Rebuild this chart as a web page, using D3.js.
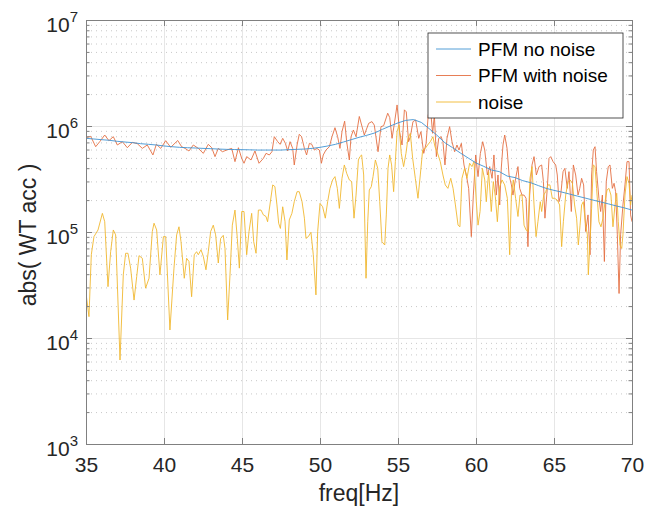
<!DOCTYPE html>
<html>
<head>
<meta charset="utf-8">
<script src="https://cdn.jsdelivr.net/npm/d3@7"></script>
<style>
  body { margin: 0; background: #fff; }
  svg { font-family: "Liberation Sans", Arial, Helvetica, sans-serif; }
  .axis path, .axis line { stroke: #808080; }
  .axis text { fill: #262626; font-size: 21px; }
  .grid line { stroke: #e6e6e6; }
  .grid path { display: none; }
  .minor-grid line { stroke: #c8c8c8; stroke-dasharray: 1,4; }
  .minor-grid path { display: none; }
</style>
</head>
<body>
<div id="chart"></div>
<script>
// amplitudes are stored in units of 1e5
var AMP_UNIT = 1e5;

var seriesNames = ["PFM no noise", "PFM with noise", "noise"];
var seriesColors = ["#3f93d2", "#e46f43", "#f0b830"];

var xTicks = [35, 40, 45, 50, 55, 60, 65, 70];
var yTicks = [1e3, 1e4, 1e5, 1e6, 1e7];

// PFM no noise (smooth response)
var freqClean = [35, 35.5, 36, 36.5, 37, 37.5, 38, 38.5, 39, 39.5, 40, 40.5, 41, 41.5, 42, 42.5,
  43, 43.5, 44, 44.5, 45, 45.5, 46, 46.5, 47, 47.5, 48, 48.5, 49, 49.5, 50, 50.5, 51, 51.5, 52, 52.5,
  53, 53.5, 54, 54.5, 55, 55.5, 56, 56.5, 57, 57.5, 58, 58.5, 59, 59.5, 60, 60.5, 61, 61.5, 62, 62.5,
  63, 63.5, 64, 64.5, 65, 65.5, 66, 66.5, 67, 67.5, 68, 68.5, 69, 69.5, 70];
var ampClean = [7.65, 7.54, 7.43, 7.33, 7.17, 7.06, 6.96, 6.81, 6.72, 6.62, 6.48, 6.38, 6.29, 6.24, 6.20, 6.15,
  6.11, 6.06, 6.02, 6.00, 5.98, 5.96, 5.93, 5.93, 5.93, 5.93, 5.98, 6.02, 6.06, 6.15, 6.29, 6.48, 6.72, 7.06, 7.43, 7.82,
  8.17, 8.59, 9.30, 10.0, 10.7, 11.3, 11.5, 10.8, 9.44, 8.17, 6.96, 6.24, 5.56, 4.99, 4.48, 4.16, 3.84, 3.71, 3.37, 3.26,
  3.05, 2.92, 2.74, 2.58, 2.47, 2.38, 2.28, 2.18, 2.09, 2.00, 1.92, 1.84, 1.76, 1.69, 1.61];

// PFM with noise
var freqNoisy = [35.00, 35.30, 35.62, 35.88, 36.20, 36.47, 36.75, 37.01, 37.33, 37.65, 37.97, 38.29, 38.61, 38.93,
  39.29, 39.51, 39.79, 40.11, 40.43, 40.88, 41.13, 41.35, 41.60, 41.88, 42.20, 42.52, 42.84, 43.06, 43.27, 43.48,
  43.74, 44.02, 44.34, 44.55, 44.77, 44.98, 45.13, 45.30, 45.58, 45.83, 46.09, 46.37, 46.54, 46.75, 46.92, 47.07,
  47.29, 47.44, 47.61, 47.78, 47.93, 48.08, 48.25, 48.35, 48.53, 48.67, 48.82, 49.00, 49.14, 49.32, 49.47, 49.64,
  49.79, 49.96, 50.09, 50.21, 50.38, 50.60, 50.77, 50.96, 51.13, 51.28, 51.41, 51.58, 51.71, 51.88, 51.99, 52.14,
  52.31, 52.52, 52.84, 53.12, 53.33, 53.48, 53.72, 53.91, 54.08, 54.34, 54.47, 54.62, 54.77, 54.94, 55.11, 55.26,
  55.41, 55.53, 55.68, 55.79, 55.96, 56.13, 56.33, 56.47, 56.65, 56.80, 56.94, 57.07, 57.22, 57.33, 57.46, 57.61,
  57.76, 57.88, 58.01, 58.14, 58.31, 58.46, 58.63, 58.78, 58.91, 59.06, 59.23, 59.38, 59.53, 59.70, 59.83, 59.98,
  60.13, 60.28, 60.43, 60.56, 60.73, 60.88, 61.03, 61.15, 61.30, 61.41, 61.52, 61.62, 61.73, 61.84, 61.99, 62.12,
  62.27, 62.37, 62.54, 62.69, 62.80, 62.95, 63.08, 63.21, 63.33, 63.44, 63.59, 63.72, 63.87, 64.04, 64.21, 64.32,
  64.42, 64.57, 64.68, 64.79, 64.94, 65.11, 65.21, 65.32, 65.43, 65.58, 65.70, 65.85, 65.96, 66.11, 66.24, 66.39,
  66.54, 66.65, 66.77, 66.90, 67.03, 67.18, 67.31, 67.41, 67.52, 67.63, 67.73, 67.88, 67.99, 68.10, 68.23, 68.35,
  68.48, 68.59, 68.74, 68.85, 68.95, 69.06, 69.17, 69.27, 69.42, 69.55, 69.68, 69.81, 69.91, 70.00];
var ampNoisy = [7.76, 7.99, 6.38, 7.11, 8.22, 7.27, 7.93, 6.62, 7.11, 6.24, 7.01, 6.81, 6.15, 6.62,
  5.33, 6.72, 6.15, 7.27, 6.29, 7.30, 6.38, 6.15, 5.81, 6.62, 6.15, 5.52, 6.72, 6.24, 5.14, 6.15,
  5.72, 5.93, 6.15, 4.61, 6.24, 4.95, 4.45, 5.14, 4.78, 5.81, 4.45, 4.95, 5.52, 5.33, 5.72, 7.93,
  7.11, 6.72, 7.65, 6.86, 5.81, 7.11, 6.15, 4.29, 6.62, 8.35, 7.93, 6.15, 5.33, 6.86, 6.72, 5.93,
  6.15, 5.93, 4.45, 5.33, 5.93, 6.38, 7.93, 9.64, 7.93, 6.15, 8.84, 11.1, 7.11, 4.78, 7.93, 9.17,
  7.93, 12.3, 8.22, 10.6, 11.0, 10.2, 5.72, 9.86, 10.07, 13.2, 12.0, 7.65, 10.6, 15.8, 8.72, 6.62,
  14.2, 13.6, 7.11, 7.93, 11.0, 11.4, 7.65, 8.84, 5.52, 6.86, 12.7, 15.2, 8.53, 12.7, 5.14, 7.65,
  7.93, 7.11, 4.29, 7.65, 9.86, 7.11, 5.72, 6.62, 5.93, 6.86, 4.29, 3.45, 2.58, 0.904, 2.23, 5.33,
  3.33, 5.52, 7.11, 5.93, 3.45, 4.14, 3.21, 5.33, 2.23, 3.45, 1.80, 3.99, 6.62, 8.22, 6.15, 3.45,
  2.78, 2.23, 3.21, 4.14, 2.58, 2.23, 2.23, 2.08, 0.727, 2.23, 4.29, 5.14, 3.45, 4.14, 4.29, 2.99,
  1.35, 2.58, 4.95, 5.14, 4.61, 4.29, 3.45, 1.93, 2.23, 3.71, 3.99, 2.58, 3.71, 1.56, 4.29, 3.45,
  2.23, 2.58, 3.21, 2.78, 1.01, 1.45, 0.61, 3.45, 5.93, 6.38, 3.71, 2.08, 1.56, 2.23, 0.527, 2.99,
  4.14, 4.29, 2.58, 2.88, 2.40, 0.94, 0.263, 0.94, 1.80, 2.78, 4.61, 4.61, 1.45, 1.25];

// noise
var freqNoise = [35.00, 35.19, 35.34, 35.51, 35.77, 36.05, 36.20, 36.41, 36.58, 36.75, 36.90, 37.18, 37.39, 37.54,
  37.69, 37.86, 38.08, 38.25, 38.40, 38.61, 38.82, 39.04, 39.25, 39.36, 39.53, 39.74, 39.96, 40.11, 40.38, 40.64,
  40.81, 40.96, 41.09, 41.30, 41.45, 41.60, 41.77, 41.94, 42.09, 42.20, 42.37, 42.52, 42.69, 42.84, 42.99, 43.16,
  43.31, 43.48, 43.63, 43.80, 43.91, 44.08, 44.23, 44.38, 44.55, 44.70, 44.83, 44.98, 45.13, 45.30, 45.45, 45.62,
  45.75, 45.90, 46.05, 46.22, 46.37, 46.54, 46.64, 46.79, 46.97, 47.11, 47.24, 47.35, 47.46, 47.61, 47.76, 47.88,
  48.03, 48.20, 48.35, 48.53, 48.67, 48.85, 49.00, 49.10, 49.25, 49.42, 49.57, 49.74, 49.85, 50.00, 50.17, 50.34,
  50.49, 50.64, 50.81, 50.96, 51.11, 51.24, 51.41, 51.56, 51.71, 51.88, 52.03, 52.18, 52.31, 52.46, 52.56, 52.67,
  52.80, 52.95, 53.06, 53.16, 53.29, 53.40, 53.55, 53.70, 53.83, 53.97, 54.15, 54.25, 54.36, 54.47, 54.59, 54.72,
  54.83, 54.94, 55.06, 55.21, 55.36, 55.51, 55.64, 55.79, 55.94, 56.11, 56.28, 56.43, 56.58, 56.75, 56.90, 57.07,
  57.24, 57.37, 57.54, 57.71, 57.88, 58.03, 58.20, 58.38, 58.53, 58.68, 58.85, 58.97, 59.10, 59.27, 59.42, 59.59,
  59.74, 59.87, 60.02, 60.13, 60.26, 60.41, 60.56, 60.66, 60.81, 60.98, 61.11, 61.24, 61.37, 61.52, 61.67, 61.84,
  62.01, 62.16, 62.27, 62.39, 62.54, 62.69, 62.82, 62.95, 63.08, 63.21, 63.33, 63.46, 63.59, 63.72, 63.85, 63.97,
  64.12, 64.21, 64.34, 64.47, 64.61, 64.74, 64.89, 65.04, 65.21, 65.36, 65.49, 65.60, 65.75, 65.90, 66.03, 66.18,
  66.32, 66.45, 66.56, 66.67, 66.77, 66.88, 67.03, 67.14, 67.20, 67.31, 67.41, 67.52, 67.63, 67.73, 67.88, 68.01,
  68.14, 68.27, 68.40, 68.52, 68.65, 68.78, 68.91, 69.02, 69.12, 69.23, 69.34, 69.42, 69.55, 69.68, 69.81, 69.91, 70.00];
var ampNoise = [0.264, 0.159, 0.61, 0.904, 1.045, 1.50, 1.25, 0.305, 0.652, 1.045, 0.94, 0.062, 0.394, 0.63,
  0.63, 0.456, 0.228, 0.379, 0.598, 0.565, 0.295, 0.366, 1.01, 1.21, 1.045, 0.394, 0.904, 0.904, 0.119, 0.456,
  0.94, 1.12, 0.81, 0.366, 0.565, 0.527, 0.245, 0.61, 0.652, 0.61, 0.68, 0.59, 0.44, 0.652, 1.01, 1.16,
  0.94, 0.51, 0.87, 0.93, 0.70, 0.148, 0.394, 1.16, 1.61, 0.87, 0.456, 1.56, 1.56, 0.61, 1.01, 1.50,
  0.81, 0.63, 1.61, 1.61, 1.45, 1.40, 1.25, 1.80, 2.78, 2.68, 1.80, 1.21, 1.08, 1.73, 1.25, 0.545,
  1.30, 1.50, 1.93, 2.40, 2.40, 1.93, 1.35, 0.87, 0.904, 0.993, 0.61, 0.255, 1.01, 1.86, 1.73, 1.35,
  1.93, 2.58, 3.10, 3.33, 2.58, 1.67, 3.21, 4.29, 3.58, 3.10, 2.99, 1.35, 2.23, 4.78, 5.14, 5.33,
  3.45, 0.366, 1.25, 2.49, 2.68, 3.33, 4.78, 3.99, 1.93, 0.81, 0.754, 1.45, 3.99, 5.33, 4.29, 2.40,
  4.61, 8.84, 10.2, 5.52, 4.14, 5.52, 7.65, 8.53, 4.95, 3.21, 2.08, 3.45, 5.93, 6.15, 6.62, 7.11,
  7.93, 6.38, 5.52, 4.61, 3.45, 2.78, 2.58, 3.21, 2.58, 1.80, 1.16, 1.12, 3.21, 3.99, 3.21, 4.45,
  4.14, 4.61, 1.93, 1.16, 1.56, 3.99, 3.10, 1.93, 3.71, 1.56, 2.99, 2.15, 1.25, 2.68, 3.10, 2.78,
  2.08, 0.61, 2.23, 3.10, 2.08, 1.40, 2.23, 2.23, 1.16, 1.045, 1.01, 3.21, 4.14, 1.80, 0.904, 1.25,
  1.93, 1.56, 2.23, 2.40, 2.78, 2.78, 2.08, 2.08, 2.00, 1.80, 0.727, 1.25, 2.23, 2.99, 3.10, 2.88,
  1.80, 1.35, 0.754, 1.16, 1.80, 1.93, 1.16, 0.94, 0.394, 0.81, 1.67, 4.29, 4.14, 2.58, 1.25, 1.12,
  1.35, 1.93, 2.49, 2.58, 2.23, 1.12, 1.80, 2.32, 1.25, 0.754, 0.70, 0.94, 2.23, 3.33, 2.88, 1.80, 2.23];

var width = 646;
var height = 511;
var margin = {top: 20, right: 14, bottom: 67, left: 86};
var plotW = width - margin.left - margin.right;
var plotH = height - margin.top - margin.bottom;

var svg = d3.select("#chart")
  .append("svg")
  .attr("width", width)
  .attr("height", height);

var g = svg.append("g")
  .attr("transform", "translate(" + margin.left + "," + margin.top + ")");

var x = d3.scaleLinear().domain([35, 70]).range([0, plotW]);
var y = d3.scaleLog().domain([1e3, 1e7]).range([plotH, 0]);

var minorY = y.ticks().filter(function (v) { return yTicks.indexOf(v) < 0; });

//grid lines
g.append("g")
  .attr("class", "minor-grid")
  .call(d3.axisLeft(y).tickValues(minorY).tickSize(-plotW).tickFormat(""));
g.append("g")
  .attr("class", "grid")
  .call(d3.axisLeft(y).tickValues(yTicks).tickSize(-plotW).tickFormat(""));
g.append("g")
  .attr("class", "grid")
  .attr("transform", "translate(0," + plotH + ")")
  .call(d3.axisBottom(x).tickValues(xTicks).tickSize(-plotH).tickFormat(""));

//lines
g.append("clipPath")
  .attr("id", "clip")
  .append("rect")
  .attr("width", plotW)
  .attr("height", plotH);

var line = d3.line()
  .x(function (d) { return x(d[0]); })
  .y(function (d) { return y(d[1] * AMP_UNIT); });

var series = [
  d3.zip(freqClean, ampClean),
  d3.zip(freqNoisy, ampNoisy),
  d3.zip(freqNoise, ampNoise)
];
// draw order: noisy, noise, then the clean curve on top
var drawOrder = [1, 2, 0];

g.append("g")
  .attr("clip-path", "url(#clip)")
  .selectAll("path")
  .data(drawOrder)
  .enter().append("path")
  .attr("d", function (i) { return line(series[i]); })
  .attr("fill", "none")
  .attr("stroke", function (i) { return seriesColors[i]; })
  .attr("stroke-width", 0.9)
  .attr("stroke-linejoin", "round");

//axes, ticks pointing inward
var xAxis = g.append("g")
  .attr("class", "axis")
  .attr("transform", "translate(0," + plotH + ")")
  .call(d3.axisBottom(x).tickValues(xTicks).tickSize(-6).tickPadding(13));
xAxis.selectAll(".tick text").attr("dy", "0.71em");

g.append("g")
  .attr("class", "axis")
  .call(d3.axisTop(x).tickValues(xTicks).tickSize(-6).tickFormat(""));

g.append("g")
  .attr("class", "axis")
  .call(d3.axisLeft(y).tickValues(minorY).tickSize(-3.5).tickSizeOuter(0).tickFormat(""));
g.append("g")
  .attr("class", "axis")
  .attr("transform", "translate(" + plotW + ",0)")
  .call(d3.axisRight(y).tickValues(minorY).tickSize(-3.5).tickSizeOuter(0).tickFormat(""));
g.append("g")
  .attr("class", "axis")
  .attr("transform", "translate(" + plotW + ",0)")
  .call(d3.axisRight(y).tickValues(yTicks).tickSize(-6).tickFormat(""));

var yAxis = g.append("g")
  .attr("class", "axis")
  .call(d3.axisLeft(y).tickValues(yTicks).tickSize(-6).tickPadding(8).tickFormat(""));

yAxis.selectAll(".tick text")
  .attr("dy", "0.55em")
  .each(function (d) {
    var t = d3.select(this);
    t.append("tspan").text("10");
    t.append("tspan")
      .attr("dy", "-0.66em")
      .attr("font-size", "15px")
      .text(Math.round(Math.log10(d)));
  });

//axis labels
svg.append("text")
  .attr("x", margin.left + plotW / 2)
  .attr("y", 501)
  .attr("text-anchor", "middle")
  .attr("font-size", "23px")
  .attr("fill", "#262626")
  .text("freq[Hz]");

svg.append("text")
  .attr("transform", "translate(28," + (margin.top + plotH / 2 + 3) + ") rotate(-90)")
  .attr("dy", "0.35em")
  .attr("text-anchor", "middle")
  .attr("font-size", "23px")
  .attr("fill", "#262626")
  .text("abs( WT acc )");

//legend
var legend = svg.append("g")
  .attr("transform", "translate(428,33)");

legend.append("rect")
  .attr("width", 195)
  .attr("height", 85)
  .attr("fill", "#fff")
  .attr("stroke", "#262626")
  .attr("stroke-width", 0.8);

var items = legend.selectAll(".item")
  .data(seriesNames)
  .enter().append("g")
  .attr("class", "item")
  .attr("transform", function (d, i) { return "translate(0," + (16 + i * 26.5) + ")"; });

items.append("line")
  .attr("x1", 8)
  .attr("x2", 43)
  .attr("stroke", function (d, i) { return seriesColors[i]; })
  .attr("stroke-width", 0.9);

items.append("text")
  .attr("x", 50)
  .attr("dy", "0.35em")
  .attr("font-size", "19px")
  .attr("fill", "#000")
  .text(function (d) { return d; });
</script>
</body>
</html>
